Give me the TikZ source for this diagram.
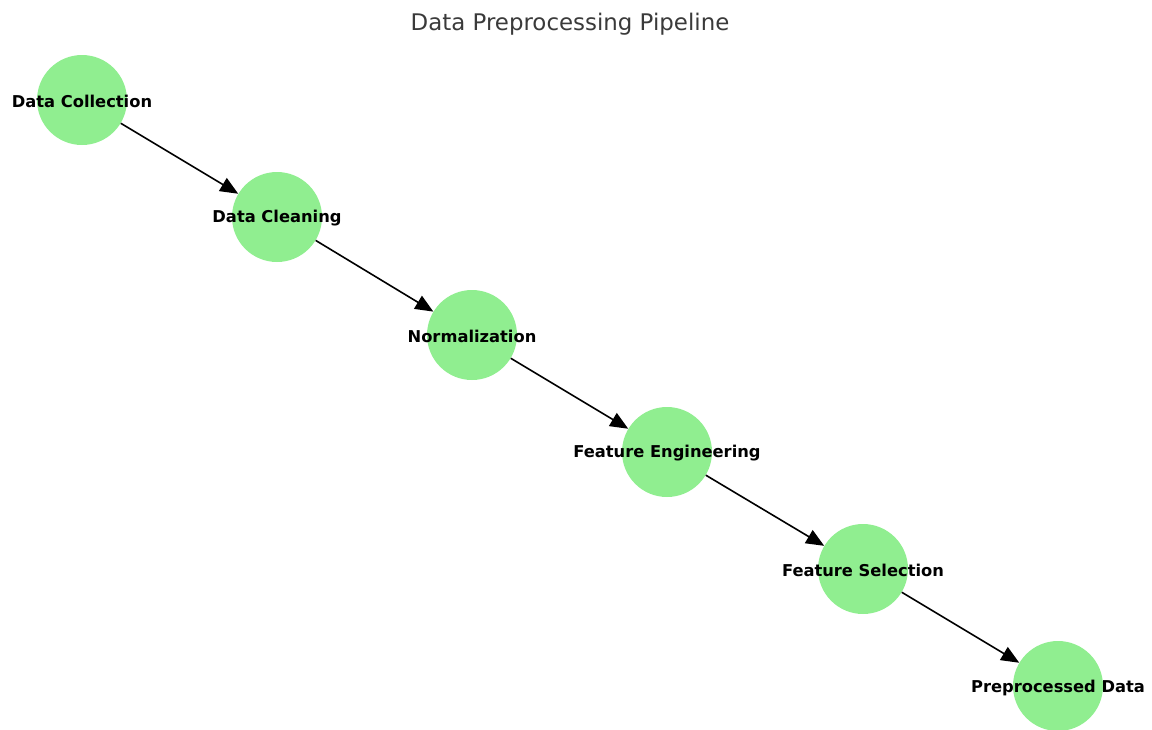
\documentclass[tikz,border=0pt]{standalone}
\usepackage{fontspec}
\setmainfont{DejaVu Sans}
\usetikzlibrary{arrows.meta}
\definecolor{nodegreen}{HTML}{90EE90}
\definecolor{titlegray}{HTML}{3A3A3A}
\begin{document}
\begin{tikzpicture}[x=1pt,y=-1pt,
  stage/.style={circle, fill=nodegreen, draw=none, minimum size=90pt, inner sep=0pt},
  stagelabel/.style={font=\fontsize{16.3}{19}\selectfont\bfseries, text=black},
  flow/.style={draw=black, line width=1.6pt, -{Triangle[length=18pt,width=15pt]}}]
\useasboundingbox (0,0) rectangle (1152,729);
\node[font=\fontsize{22.9}{27}\selectfont, text=titlegray] (title) at (570,24) {Data Preprocessing Pipeline};
\node[stage] (n1) at (82,100) {};
\node[stage] (n2) at (277,217) {};
\node[stage] (n3) at (472,335) {};
\node[stage] (n4) at (667,452) {};
\node[stage] (n5) at (863,569) {};
\node[stage] (n6) at (1058,686) {};
\node[stagelabel] (l1) at ([yshift=-1.5pt]n1) {Data Collection};
\node[stagelabel] (l2) at ([yshift=-1.5pt]n2) {Data Cleaning};
\node[stagelabel] (l3) at ([yshift=-1.5pt]n3) {Normalization};
\node[stagelabel] (l4) at ([yshift=-1.5pt]n4) {Feature Engineering};
\node[stagelabel] (l5) at ([yshift=-1.5pt]n5) {Feature Selection};
\node[stagelabel] (l6) at ([yshift=-1.5pt]n6) {Preprocessed Data};
\draw[flow] (n1) -- (n2);
\draw[flow] (n2) -- (n3);
\draw[flow] (n3) -- (n4);
\draw[flow] (n4) -- (n5);
\draw[flow] (n5) -- (n6);
\end{tikzpicture}
\end{document}
